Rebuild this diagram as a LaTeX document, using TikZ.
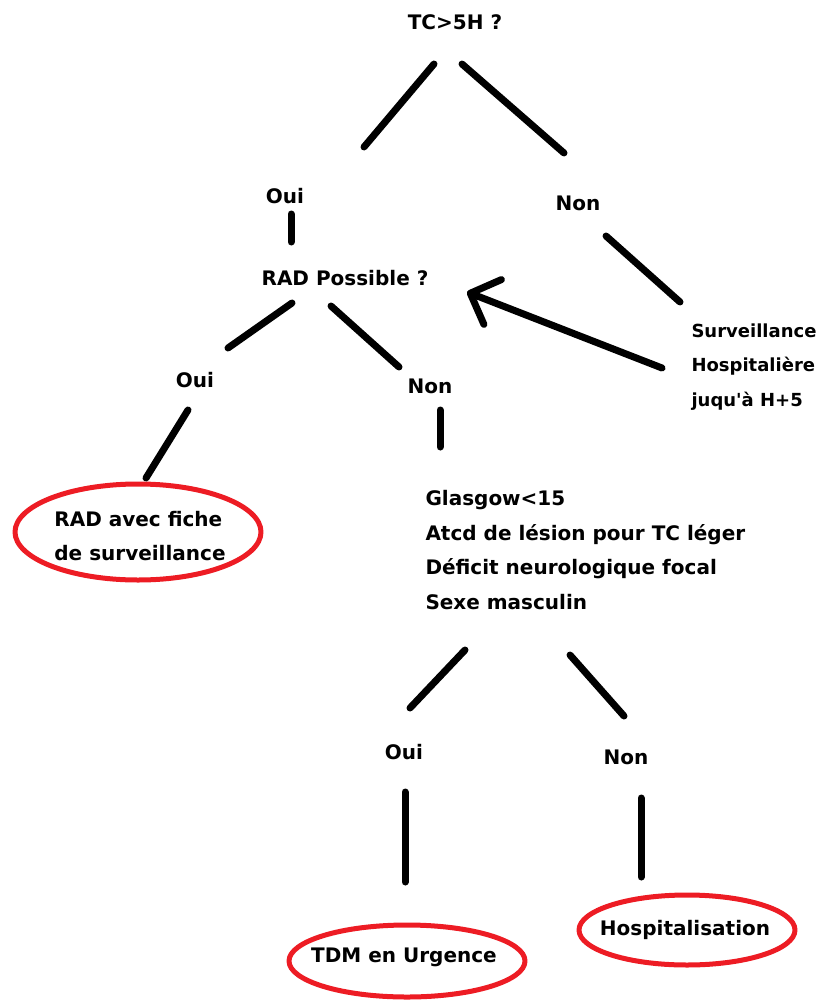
\documentclass[tikz,border=0pt]{standalone}
\usepackage{fontspec}
\newfontfamily\comic{DejaVu Sans}
\usetikzlibrary{arrows.meta}
\definecolor{paintred}{RGB}{237,28,36}
\begin{document}
\begin{tikzpicture}[x=1pt,y=-1pt,line width=7pt,line cap=round,line join=round,
  txt/.style={font=\comic\bfseries\fontsize{20}{34.5}\selectfont,inner sep=0pt,align=left},
  ring/.style={draw=paintred,line width=5pt}]
\useasboundingbox (0,0) rectangle (820,1003);
% questions and answers
\node[txt] (q1) at (455,22) {TC>5H ?};
\node[txt] (o1) at (285,196) {Oui};
\node[txt] (n1) at (578,203) {Non};
\node[txt] (q2) at (345,278) {RAD Possible ?};
\node[txt,font=\comic\bfseries\fontsize{18}{34.5}\selectfont,anchor=west] (sv) at (688,367) {Surveillance\\Hospitalière\\juqu'à H+5};
\node[txt] (o2) at (195,380) {Oui};
\node[txt] (n2) at (430,386) {Non};
\node[txt,anchor=west] (crit) at (422,550) {Glasgow<15\\Atcd de lésion pour TC léger\\Déficit neurologique focal\\Sexe masculin};
\node[txt] (o3) at (404,752) {Oui};
\node[txt] (n3) at (626,757) {Non};
% outcomes
\node[txt] (rad) at (140,536) {RAD avec fiche\\de surveillance};
\node[txt] (tdm) at (404,957) {TDM en Urgence};
\node[txt] (hosp) at (685,930) {Hospitalisation};
\draw[ring] (138,532) ellipse (123 and 48);
\draw[ring] (407,961) ellipse (118 and 36);
\draw[ring] (687,930) ellipse (108 and 35);
% stroke ends
\coordinate (q1l) at (434,64);  \coordinate (o1t) at (364,147);
\coordinate (q1r) at (462,64);  \coordinate (n1t) at (564,153);
\coordinate (o1b) at (291,214); \coordinate (q2t) at (291,242);
\coordinate (n1b) at (606,236); \coordinate (svt) at (680,302);
\coordinate (q2l) at (292,303); \coordinate (o2t) at (228,348);
\coordinate (q2r) at (331,306); \coordinate (n2t) at (399,367);
\coordinate (o2b) at (188,410); \coordinate (radt) at (146,478);
\coordinate (n2b) at (440,410); \coordinate (critt) at (440,447);
\coordinate (critl) at (465,650); \coordinate (o3t) at (410,708);
\coordinate (critr) at (570,655); \coordinate (n3t) at (624,716);
\coordinate (o3b) at (405,792); \coordinate (tdmt) at (405,882);
\coordinate (n3b) at (641,798); \coordinate (hospt) at (641,877);
\coordinate (svl) at (662,368); \coordinate (q2e) at (467,292);
\draw (q1l) -- (o1t);
\draw (q1r) -- (n1t);
\draw (o1b) -- (q2t);
\draw (n1b) -- (svt);
\draw (q2l) -- (o2t);
\draw (q2r) -- (n2t);
\draw (o2b) -- (radt);
\draw (n2b) -- (critt);
\draw (critl) -- (o3t);
\draw (critr) -- (n3t);
\draw (o3b) -- (tdmt);
\draw (n3b) -- (hospt);
\draw[-{Straight Barb[length=24pt,width=48pt,round]}] (svl) -- (q2e);
\end{tikzpicture}
\end{document}
